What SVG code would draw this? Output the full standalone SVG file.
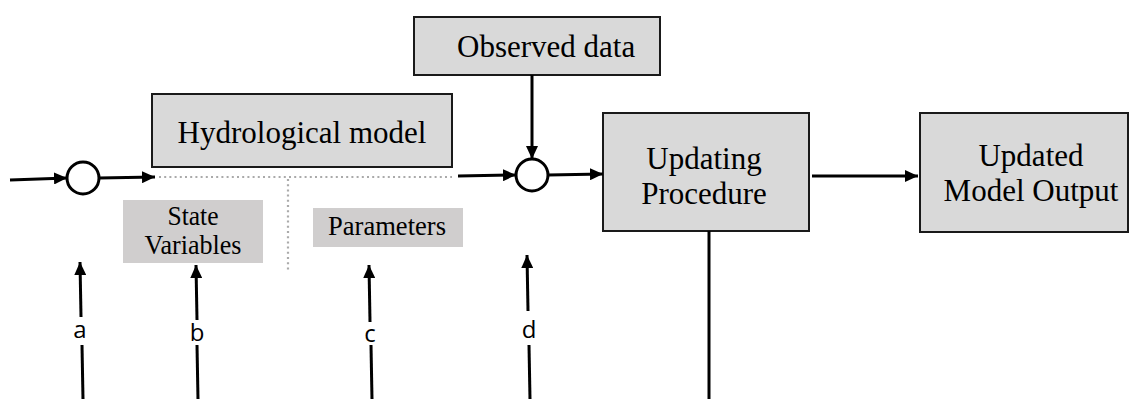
<svg xmlns="http://www.w3.org/2000/svg" width="1130" height="399" viewBox="0 0 1130 399">
<style>
.box{fill:#d9d9d9;stroke:#1a1a1a;stroke-width:2}
.sub{fill:#d0cece;stroke:none}
.t{font-family:"Liberation Serif","Times New Roman",serif;font-size:31px;fill:#000}
.ts{font-family:"Liberation Serif","Times New Roman",serif;font-size:28px;fill:#000}
.lbl{font-family:"Open Sans","Liberation Sans",Arial,sans-serif;font-size:24px;fill:#000;text-anchor:middle}
.c{fill:#fff;stroke:#000;stroke-width:3}
.ln{stroke:#000;stroke-width:3;fill:none}
.dot{stroke:#aaa;stroke-width:2.2;fill:none;stroke-dasharray:2 3.2}
</style>
<defs>
<marker id="ah" viewBox="0 0 13 12" refX="13" refY="6" markerWidth="13" markerHeight="12" markerUnits="userSpaceOnUse" orient="auto">
<path d="M0,0 L13,6 L0,12 Z" fill="#000"/>
</marker>
</defs>
<g id="hydrological-model">
<rect class="box" x="152" y="94" width="300" height="73"/>
<text class="t" x="302" y="143" text-anchor="middle">Hydrological model</text>
</g>
<g id="observed-data">
<rect class="box" x="414" y="17" width="246" height="58"/>
<text class="t" x="457" y="57">Observed data</text>
</g>
<g id="updating-procedure">
<rect class="box" x="603" y="113" width="206" height="118"/>
<text class="t" x="704" y="169" text-anchor="middle">Updating</text>
<text class="t" x="704" y="204" text-anchor="middle">Procedure</text>
</g>
<g id="updated-model-output">
<rect class="box" x="920" y="113" width="208" height="119"/>
<text class="t" x="1031" y="166" text-anchor="middle">Updated</text>
<text class="t" x="1031" y="201" text-anchor="middle">Model Output</text>
</g>
<g id="state-variables">
<rect class="sub" x="123" y="200" width="140" height="63"/>
<text class="ts" x="193" y="225" text-anchor="middle" textLength="51" lengthAdjust="spacingAndGlyphs">State</text>
<text class="ts" x="193" y="254" text-anchor="middle" textLength="97" lengthAdjust="spacingAndGlyphs">Variables</text>
</g>
<g id="parameters">
<rect class="sub" x="313" y="208" width="150" height="39"/>
<text class="ts" x="387" y="235" text-anchor="middle" textLength="118" lengthAdjust="spacingAndGlyphs">Parameters</text>
</g>
<g id="sum-1">
<circle class="c" cx="83" cy="178" r="16"/>
</g>
<g id="sum-2">
<circle class="c" cx="532" cy="175" r="16"/>
</g>
<g id="connectors">
<path class="dot" d="M159,177 H452"/>
<path class="dot" d="M288,179 V271"/>
<path class="ln" d="M10,180 L67,178" marker-end="url(#ah)"/>
<path class="ln" d="M99,178 L155,177" marker-end="url(#ah)"/>
<path class="ln" d="M458,176 L516,175" marker-end="url(#ah)"/>
<path class="ln" d="M532,75 L532,159" marker-end="url(#ah)"/>
<path class="ln" d="M548,175 L603,174" marker-end="url(#ah)"/>
<path class="ln" d="M812,176 L918,176" marker-end="url(#ah)"/>
<path class="ln" d="M709,231 V399"/>
<path class="ln" d="M81,317 L80,262" marker-end="url(#ah)"/>
<path class="ln" d="M83,399 L82,345"/>
<text class="lbl" x="80" y="338">a</text>
<path class="ln" d="M197,320 L196,265" marker-end="url(#ah)"/>
<path class="ln" d="M198,399 L197,345"/>
<text class="lbl" x="197" y="341">b</text>
<path class="ln" d="M370,322 L369,265" marker-end="url(#ah)"/>
<path class="ln" d="M372,399 L371,345"/>
<text class="lbl" x="370" y="342">c</text>
<path class="ln" d="M528,311 L527,255" marker-end="url(#ah)"/>
<path class="ln" d="M530,399 L529,345"/>
<text class="lbl" x="529" y="338">d</text>
</g>
</svg>
